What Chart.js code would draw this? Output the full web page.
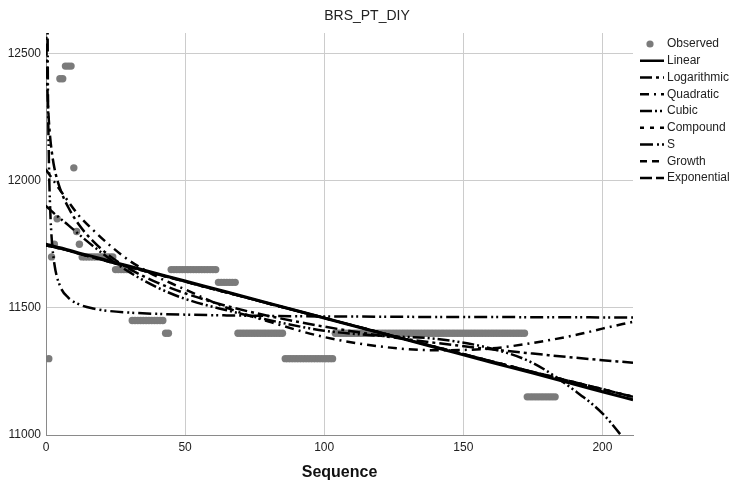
<!DOCTYPE html>
<html>
<head>
<meta charset="utf-8">
<script src="https://cdn.jsdelivr.net/npm/chart.js@4.4.1/dist/chart.umd.min.js"></script>
<style>
  html, body { margin: 0; padding: 0; background: #fff; }
</style>
</head>
<body>
<canvas id="curveChart" width="734" height="482"></canvas>
<script>
// observed values, sequence 1..183
const observed = [
  11300, 11700, 11750, 11850, 12400, 12400, 12450, 12450, 12450, 12050, 11800, 11750,
  11700, 11700, 11700, 11700, 11700, 11700, 11700, 11700, 11700, 11700, 11700, 11700,
  11650, 11650, 11650, 11650, 11650, 11650,
  11450, 11450, 11450, 11450, 11450, 11450, 11450, 11450, 11450, 11450, 11450, 11450,
  11400, 11400,
  11650, 11650, 11650, 11650, 11650, 11650, 11650, 11650, 11650, 11650,
  11650, 11650, 11650, 11650, 11650, 11650, 11650,
  11600, 11600, 11600, 11600, 11600, 11600, 11600,
  11400, 11400, 11400, 11400, 11400, 11400, 11400, 11400, 11400, 11400,
  11400, 11400, 11400, 11400, 11400, 11400, 11400,
  11300, 11300, 11300, 11300, 11300, 11300, 11300, 11300, 11300, 11300,
  11300, 11300, 11300, 11300, 11300, 11300, 11300, 11300,
  11400, 11400, 11400, 11400, 11400, 11400, 11400, 11400, 11400, 11400,
  11400, 11400, 11400, 11400, 11400, 11400, 11400, 11400, 11400, 11400,
  11400, 11400, 11400, 11400, 11400, 11400, 11400, 11400, 11400, 11400,
  11400, 11400, 11400, 11400, 11400, 11400, 11400, 11400, 11400, 11400,
  11400, 11400, 11400, 11400, 11400, 11400, 11400, 11400, 11400, 11400,
  11400, 11400, 11400, 11400, 11400, 11400, 11400, 11400, 11400, 11400,
  11400, 11400, 11400, 11400, 11400, 11400, 11400, 11400, 11400,
  11150, 11150, 11150, 11150, 11150, 11150, 11150, 11150, 11150, 11150, 11150
];

// fitted curves at these sequence positions
const fitT        = [0, 0.02, 0.1, 0.3, 0.6, 1, 1.5, 2, 3, 5, 8, 12, 17, 23, 30, 40, 50, 65, 80, 100, 120, 140, 160, 175, 190, 200, 211];
const linearFit   = [11750, 11750, 11750, 11749, 11748, 11747, 11746, 11744, 11741, 11736, 11727, 11715, 11701, 11683, 11663, 11634, 11605, 11562, 11518, 11460, 11402, 11344, 11286, 11243, 11199, 11170, 11138];
const logFit      = [null, 12900, 12620, 12450, 12330, 12240, 12170, 12120, 12050, 11970, 11895, 11824, 11761, 11703, 11653, 11599, 11557, 11507, 11468, 11426, 11391, 11362, 11337, 11320, 11304, 11294, 11284];
const quadFit     = [12043, 12043, 12041, 12038, 12033, 12027, 12019, 12011, 11995, 11964, 11918, 11860, 11805, 11745, 11685, 11622, 11572, 11500, 11446, 11385, 11348, 11333, 11340, 11362, 11392, 11418, 11445];
const cubicFit    = [11900, 11900, 11899, 11897, 11894, 11890, 11885, 11880, 11870, 11852, 11825, 11787, 11742, 11692, 11640, 11580, 11535, 11490, 11452, 11410, 11390, 11378, 11340, 11283, 11175, 11085, 10940];
const compoundFit = [11745, 11745, 11745, 11744, 11744, 11743, 11742, 11741, 11738, 11733, 11725, 11712, 11698, 11680, 11660, 11632, 11603, 11560, 11517, 11460, 11403, 11346, 11290, 11248, 11207, 11180, 11150];
const sFit        = [null, null, null, 13770, 12540, 12108, 11890, 11780, 11673, 11587, 11540, 11513, 11497, 11487, 11481, 11476, 11473, 11470, 11468, 11466, 11465, 11464, 11464, 11463, 11463, 11462, 11462];
const growthFit   = compoundFit;
const expFit      = compoundFit;

const xTicks = [0, 50, 100, 150, 200];
const yTicks = [11000, 11500, 12000, 12500];

const FONT = "'Liberation Sans', Arial, sans-serif";

function curve(values) {
  return fitT.map((t, i) => ({ x: t, y: values[i] }));
}

function lineSet(label, values, dash, width) {
  return {
    label: label,
    data: curve(values),
    showLine: true,
    borderColor: "#000",
    borderWidth: width || 2.5,
    borderDash: dash,
    pointRadius: 0,
    cubicInterpolationMode: "monotone",
    order: 1,
  };
}

const datasets = [
  {
    label: "Observed",
    data: observed.map((v, i) => ({ x: i + 1, y: v })),
    pointRadius: 3.7,
    pointBackgroundColor: "#7b7b7b",
    pointBorderWidth: 0,
    showLine: false,
    order: 20,
  },
  lineSet("Linear", linearFit, [], 3),
  lineSet("Logarithmic", logFit, [12, 4, 3, 4]),
  lineSet("Quadratic", quadFit, [9, 5, 2, 5]),
  lineSet("Cubic", cubicFit, [12, 3, 2, 3, 2, 3]),
  lineSet("Compound", compoundFit, [4, 6]),
  lineSet("S", sFit, [13, 4, 2, 3, 2, 4]),
  lineSet("Growth", growthFit, [7, 5]),
  lineSet("Exponential", expFit, [12, 4]),
];

// title and legend drawn by hand so they sit where SPSS puts them
const sideLegend = {
  id: "sideLegend",
  afterDraw(chart) {
    const ctx = chart.ctx;
    ctx.save();
    ctx.fillStyle = "#222";
    ctx.font = "14px " + FONT;
    ctx.textAlign = "center";
    ctx.textBaseline = "middle";
    ctx.fillText("BRS_PT_DIY", 367, 16);

    ctx.font = "12px " + FONT;
    ctx.textAlign = "left";
    chart.data.datasets.forEach((ds, i) => {
      const y = 44 + i * 16.75;
      if (i === 0) {
        ctx.fillStyle = "#7b7b7b";
        ctx.beginPath();
        ctx.arc(650, y, 3.6, 0, Math.PI * 2);
        ctx.fill();
      } else {
        ctx.strokeStyle = "#000";
        ctx.lineWidth = 2.5;
        ctx.setLineDash(ds.borderDash || []);
        ctx.beginPath();
        ctx.moveTo(640, y);
        ctx.lineTo(664, y);
        ctx.stroke();
        ctx.setLineDash([]);
      }
      ctx.fillStyle = "#222";
      ctx.fillText(ds.label, 667, y);
    });
    ctx.restore();
  },
};

new Chart(document.getElementById("curveChart"), {
  type: "scatter",
  data: { datasets: datasets },
  options: {
    responsive: false,
    animation: false,
    devicePixelRatio: 1,
    layout: { padding: { top: 33, right: 101, left: 0, bottom: 0 } },
    plugins: {
      legend: { display: false },
      title: { display: false },
      tooltip: { enabled: false },
    },
    scales: {
      x: {
        type: "linear",
        min: 0,
        max: 211,
        afterFit: (scale) => { scale.height = 47; },
        afterBuildTicks: (scale) => { scale.ticks = xTicks.map((v) => ({ value: v })); },
        grid: { color: "#cccccc", drawTicks: false },
        border: { color: "#8a8a8a" },
        ticks: {
          color: "#222", padding: 5, font: { family: FONT, size: 12 },
          callback: (v) => String(v),
        },
        title: {
          display: true,
          text: "Sequence",
          color: "#111",
          padding: { top: 4, bottom: 0 },
          font: { family: FONT, size: 16, weight: "bold" },
        },
      },
      y: {
        min: 11000,
        max: 12580,
        afterFit: (scale) => { scale.width = 46; },
        afterBuildTicks: (scale) => { scale.ticks = yTicks.map((v) => ({ value: v })); },
        grid: { color: "#cccccc", drawTicks: false },
        border: { color: "#8a8a8a" },
        ticks: {
          color: "#222", padding: 5, font: { family: FONT, size: 12 },
          callback: (v) => String(v),
        },
      },
    },
  },
  plugins: [sideLegend],
});
</script>
</body>
</html>
